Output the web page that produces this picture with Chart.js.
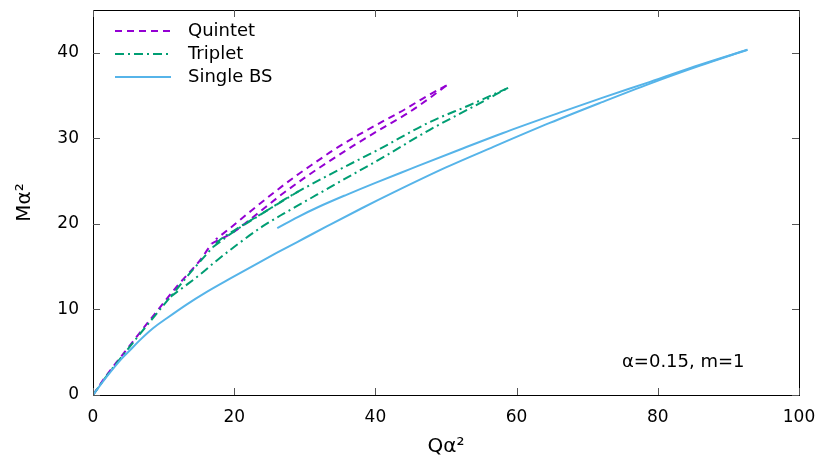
<!DOCTYPE html>
<html>
<head>
<meta charset="utf-8">
<script src="https://cdn.jsdelivr.net/npm/chart.js@4.4.1/dist/chart.umd.min.js"></script>
<style>
  html, body { margin: 0; padding: 0; background: #fff; }
  #wrap { width: 821px; height: 459px; }
</style>
</head>
<body>
<div id="wrap"><canvas id="chart" width="821" height="459"></canvas></div>
<script>
// axis ticks
const xTicks = [0, 20, 40, 60, 80, 100];
const yTicks = [0, 10, 20, 30, 40];

// Quintet branches (Q, M)
const quintetSteepQ = [0, 2, 3.8, 8, 12, 15.2, 16.8];
const quintetSteepM = [0, 2.4, 4.3, 8.7, 12.8, 15.8, 17.7];
const quintetLowQ = [16.8, 20, 23, 26.5, 30, 33.6, 37, 41, 44.5, 47.5, 50.1];
const quintetLowM = [17.7, 19.1, 21.0, 23.3, 25.4, 27.4, 29.2, 31.2, 32.9, 34.6, 36.2];
const quintetUpQ = [50.1, 47, 44.2, 41.1, 37.6, 34, 31.7, 28.9, 26, 22.5, 19.4, 17.4];
const quintetUpM = [36.2, 34.8, 33.4, 32.0, 30.4, 28.6, 27.3, 25.7, 23.9, 21.6, 19.5, 18.2];

// Triplet branches
const tripletSteepQ = [0, 2, 4, 8, 11, 14, 17];
const tripletSteepM = [0, 2.3, 4.4, 8.5, 11.5, 14.5, 17.3];
const tripletLowQ = [11, 13.3, 15.2, 17.5, 20.3, 24, 27, 30, 33.6, 40.7, 47.7, 53.4, 58.8];
const tripletLowM = [11.5, 12.9, 14.1, 15.7, 17.5, 19.7, 21.2, 22.6, 24.3, 27.6, 31.0, 33.5, 35.9];
const tripletUpQ = [58.8, 53.4, 47.7, 40.7, 33.6, 29.1, 27.2, 25.1, 22.7, 20.3, 17.8, 17];
const tripletUpM = [35.9, 33.9, 31.9, 28.8, 25.8, 23.8, 22.9, 21.8, 20.6, 19.4, 18.0, 17.3];
const tripletTipQ = [17, 20.3, 23, 25.5, 27.5, 29.1];
const tripletTipM = [17.3, 19.3, 20.7, 22.0, 23.0, 23.8];

// Single BS branches
const singleLowQ = [0, 2, 4, 5.2, 6.5, 8.5, 10.5, 13.3, 16, 19.4, 23, 26, 30, 33.1, 38, 42.5, 50, 56.7, 64.7, 72, 78.9, 86, 92.7];
const singleLowM = [0, 2.2, 4.2, 5.2, 6.3, 7.8, 9.0, 10.6, 12.0, 13.6, 15.25, 16.6, 18.35, 19.7, 21.8, 23.65, 26.6, 29.0, 31.8, 34.2, 36.4, 38.5, 40.35];
const singleUpQ = [92.7, 86, 78.9, 72, 66.1, 58, 52, 44.9, 40, 35.9, 32, 29, 26.1];
const singleUpM = [40.35, 38.6, 36.6, 34.7, 33.0, 30.6, 28.7, 26.4, 24.8, 23.4, 22.0, 20.8, 19.5];

const labels = ['Quintet', 'Triplet', 'Single BS'];
const colors = ['#9400d3', '#009e73', '#56b4e9'];
const dashes = [[7, 5], [9, 4, 2, 4], []];

function pts(qs, ms) { return qs.map((q, i) => ({ x: q, y: ms[i] })); }

function branch(qs, ms, k) {
  return {
    label: labels[k],
    data: pts(qs, ms),
    borderColor: colors[k],
    borderWidth: 2,
    borderDash: dashes[k],
    pointRadius: 0,
    cubicInterpolationMode: 'monotone',
    fill: false
  };
}

const datasets = [
  branch(singleLowQ, singleLowM, 2),
  branch(singleUpQ, singleUpM, 2),
  branch(tripletSteepQ, tripletSteepM, 1),
  branch(tripletLowQ, tripletLowM, 1),
  branch(tripletUpQ, tripletUpM, 1),
  branch(tripletTipQ, tripletTipM, 1),
  branch(quintetSteepQ, quintetSteepM, 0),
  branch(quintetLowQ, quintetLowM, 0),
  branch(quintetUpQ, quintetUpM, 0)
];

// box, inward ticks, labels, legend and note
const decor = {
  id: 'decor',
  afterDraw(chart) {
    const { ctx, chartArea: a, scales } = chart;
    ctx.save();
    ctx.strokeStyle = '#000';
    ctx.lineWidth = 1;
    ctx.strokeRect(a.left + 0.5, a.top + 0.5, a.right - a.left, a.bottom - a.top);
    ctx.strokeStyle = '#555';
    ctx.beginPath();
    xTicks.forEach(v => {
      const x = Math.round(scales.x.getPixelForValue(v)) + 0.5;
      ctx.moveTo(x, a.bottom); ctx.lineTo(x, a.bottom - 7);
      ctx.moveTo(x, a.top); ctx.lineTo(x, a.top + 7);
    });
    yTicks.forEach(v => {
      const y = Math.round(scales.y.getPixelForValue(v)) + 0.5;
      ctx.moveTo(a.left, y); ctx.lineTo(a.left + 7, y);
      ctx.moveTo(a.right, y); ctx.lineTo(a.right - 7, y);
    });
    ctx.stroke();

    ctx.fillStyle = '#000';
    ctx.font = '17px "DejaVu Sans"';
    ctx.textBaseline = 'middle';
    ctx.textAlign = 'center';
    xTicks.forEach(v => ctx.fillText(String(v), scales.x.getPixelForValue(v), a.bottom + 23));
    ctx.textAlign = 'right';
    yTicks.forEach(v => ctx.fillText(String(v), a.left - 14, scales.y.getPixelForValue(v)));

    ctx.font = '20px "DejaVu Sans"';
    ctx.textAlign = 'center';
    ctx.fillText('Qα²', (a.left + a.right) / 2, 447);
    ctx.save();
    ctx.translate(25, (a.top + a.bottom) / 2);
    ctx.rotate(-Math.PI / 2);
    ctx.fillText('Mα²', 0, 0);
    ctx.restore();

    ctx.font = '18px "DejaVu Sans"';
    ctx.textAlign = 'left';
    [31, 54, 77].forEach((y, k) => {
      ctx.strokeStyle = colors[k];
      ctx.lineWidth = 2;
      ctx.setLineDash(dashes[k]);
      ctx.beginPath();
      ctx.moveTo(115, y); ctx.lineTo(171, y);
      ctx.stroke();
      ctx.setLineDash([]);
      ctx.fillText(labels[k], 188, y);
    });
    ctx.fillText('α=0.15, m=1', 622, 362);
    ctx.restore();
  }
};

new Chart(document.getElementById('chart'), {
  type: 'line',
  data: { datasets },
  options: {
    responsive: false,
    animation: false,
    layout: { padding: { top: 10, right: 22, left: 0, bottom: 0 } },
    plugins: { legend: { display: false }, tooltip: { enabled: false } },
    scales: {
      x: {
        type: 'linear',
        min: 0, max: 100,
        afterFit(s) { s.height = 64; },
        grid: { display: false, drawTicks: false },
        border: { display: false },
        ticks: { display: false }
      },
      y: {
        type: 'linear',
        min: 0, max: 45,
        afterFit(s) { s.width = 93; },
        grid: { display: false, drawTicks: false },
        border: { display: false },
        ticks: { display: false }
      }
    }
  },
  plugins: [decor]
});
</script>
</body>
</html>
